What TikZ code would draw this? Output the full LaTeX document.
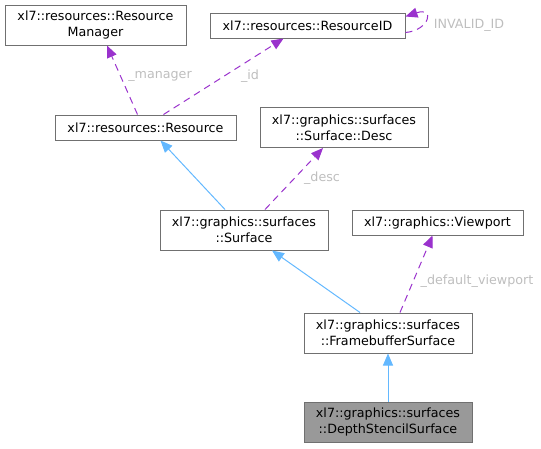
\documentclass[tikz,border=0pt]{standalone}
\usepackage{fontspec}
\setmainfont{DejaVu Sans}
\usetikzlibrary{arrows.meta}
\definecolor{boxborder}{HTML}{707070}
\definecolor{inhblue}{HTML}{63B8FF}
\definecolor{usepurple}{HTML}{9A32CD}
\definecolor{lblgray}{HTML}{BEBEBE}
\definecolor{curfill}{HTML}{999999}
\tikzset{
  cls/.style={draw=boxborder, line width=1pt, fill=white, inner sep=0pt, align=center,
    font=\fontsize{12.7}{15.6}\selectfont, text=black},
  inh/.style={draw=inhblue, line width=1pt, -{Triangle[length=12pt,width=10pt]}},
  usage/.style={draw=usepurple, line width=1pt, dash pattern=on 7pt off 5pt,
    -{Triangle[length=12pt,width=10pt,fill=usepurple]}},
  lbl/.style={text=lblgray, font=\fontsize{12.7}{15.6}\selectfont, inner sep=0pt}
}
\begin{document}
\begin{tikzpicture}[x=1pt,y=-1pt]
\useasboundingbox (0,0) rectangle (541,448);
\node[cls, minimum width=181pt, minimum height=40pt] (mgr) at (95.5,25) {xl7::resources::Resource\\Manager};
\node[cls, minimum width=195pt, minimum height=25pt] (rid) at (307.5,25.5) {xl7::resources::ResourceID};
\node[cls, minimum width=181pt, minimum height=25pt] (res) at (145.5,127.5) {xl7::resources::Resource};
\node[cls, minimum width=168pt, minimum height=40pt] (desc) at (344,127.5) {xl7::graphics::surfaces\\::Surface::Desc};
\node[cls, minimum width=168pt, minimum height=40pt] (surf) at (244,230) {xl7::graphics::surfaces\\::Surface};
\node[cls, minimum width=171pt, minimum height=25pt] (vp) at (437.5,222.5) {xl7::graphics::Viewport};
\node[cls, minimum width=168pt, minimum height=40pt] (fbs) at (388,333) {xl7::graphics::surfaces\\::FramebufferSurface};
\node[cls, fill=curfill, minimum width=168pt, minimum height=40pt] (dss) at (388,422) {xl7::graphics::surfaces\\::DepthStencilSurface};

\draw[usage] ([xshift=-8pt]res.north) -- ([xshift=11.5pt]mgr.south);
\draw[usage] ([xshift=18pt]res.north) -- ([xshift=-24pt]rid.south);
\draw[usage] ([yshift=-7pt]rid.east) .. controls +(24,-2) and +(30,-10) .. ([yshift=9pt]rid.east);
\draw[inh] ([xshift=-19pt]surf.north) -- ([xshift=15pt]res.south);
\draw[usage] ([xshift=21pt]surf.north) -- ([xshift=-21pt]desc.south);
\draw[inh] ([xshift=-28pt]fbs.north) -- ([xshift=28pt]surf.south);
\draw[usage] ([xshift=12pt]fbs.north) -- ([xshift=-5pt]vp.south);
\draw[inh] (dss.north) -- (fbs.south);

\node[lbl] (lmgr) at (160,76) {\_manager};
\node[lbl] (lid) at (250,76) {\_id};
\node[lbl] (linv) at (469,25) {INVALID\_ID};
\node[lbl] (ldesc) at (322,178) {\_desc};
\node[lbl] (lvp) at (477,281) {\_default\_viewport};
\end{tikzpicture}
\end{document}
